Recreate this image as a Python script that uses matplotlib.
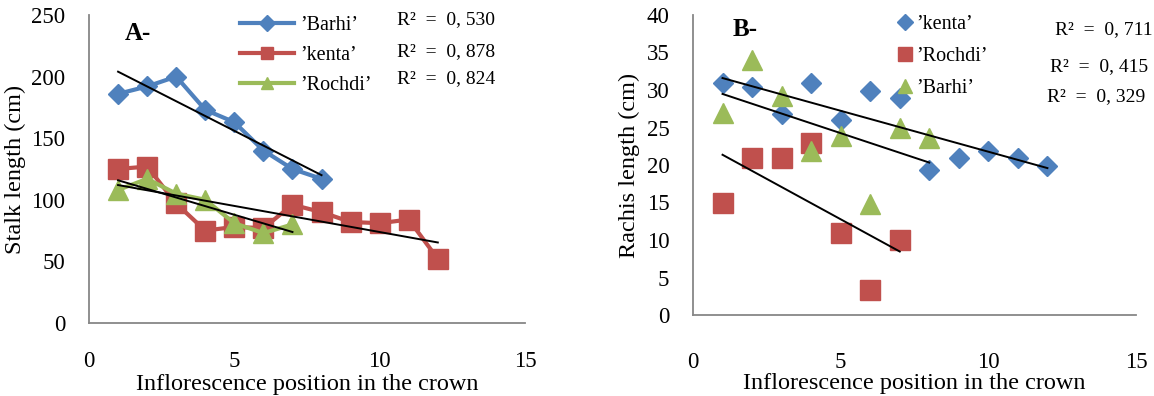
import numpy as np
import matplotlib
matplotlib.use("Agg")
import matplotlib.pyplot as plt
from matplotlib.lines import Line2D

# ---------------- data ----------------
pos_a_barhi = [1, 2, 3, 4, 5, 6, 7, 8]
stalk_barhi = [186, 192, 200, 173, 163, 140, 125, 117]
pos_a_kenta = [1, 2, 3, 4, 5, 6, 7, 8, 9, 10, 11, 12]
stalk_kenta = [125, 127, 97, 75, 78, 77, 96, 90, 82, 81, 84, 52]
pos_a_rochdi = [1, 2, 3, 4, 5, 6, 7]
stalk_rochdi = [108, 117, 105, 100, 81, 73, 80]

pos_b_kenta = [1, 2, 3, 4, 5, 6, 7, 8, 9, 10, 11, 12]
rachis_kenta = [31.0, 30.4, 26.8, 31.0, 26.0, 29.9, 28.9, 19.3, 21.0, 21.9, 21.0, 19.9]
pos_b_rochdi = [1, 2, 3, 4, 5, 6, 7]
rachis_rochdi = [15.0, 21.0, 21.0, 23.0, 11.0, 3.4, 10.0]
pos_b_barhi = [1, 2, 3, 4, 5, 6, 7, 8]
rachis_barhi = [26.9, 34.0, 29.2, 21.9, 23.9, 14.8, 24.9, 23.6]

labels_a = ["\u2019Barhi\u2019", "\u2019kenta\u2019", "\u2019Rochdi\u2019"]
r2_a = ["R\u00b2  =  0, 530", "R\u00b2  =  0, 878", "R\u00b2  =  0, 824"]
labels_b = ["\u2019kenta\u2019", "\u2019Rochdi\u2019", "\u2019Barhi\u2019"]
r2_b = ["R\u00b2  =  0, 711", "R\u00b2  =  0, 415", "R\u00b2  =  0, 329"]

xticks = [0, 5, 10, 15]
yticks_a = [0, 50, 100, 150, 200, 250]
yticks_b = [0, 5, 10, 15, 20, 25, 30, 35, 40]

BLUE = "#4F81BD"
RED = "#C0504D"
GREEN = "#9BBB59"
SPINE = "#878787"

plt.rcParams['font.family'] = ['Liberation Serif', 'DejaVu Serif']

W, H = 1154, 396
fig = plt.figure(figsize=(W / 100, H / 100), dpi=100)

def fbox(l, t, r, b):
    return [l / W, 1 - b / H, (r - l) / W, (b - t) / H]

axA = fig.add_axes(fbox(89, 15, 525, 323))
axB = fig.add_axes(fbox(693, 15, 1136, 315))

def style(ax, yticks, ylabel, xpad, lpad, ylab_xy):
    ax.set_xlim(0, 15)
    ax.set_xticks(xticks)
    ax.set_ylim(yticks[0], yticks[-1])
    ax.set_yticks(yticks)
    for s in ["top", "right"]:
        ax.spines[s].set_visible(False)
    for s in ["left", "bottom"]:
        ax.spines[s].set_color(SPINE)
        ax.spines[s].set_linewidth(1.3)
    ax.tick_params(axis="both", length=0, labelsize=16.5)
    ax.tick_params(axis="y", pad=17)
    ax.tick_params(axis="x", pad=xpad)
    ax.set_xlabel("Inflorescence position in the crown", fontsize=17.5, labelpad=lpad)
    ax.set_ylabel(ylabel, fontsize=17.5)
    ax.yaxis.set_label_coords(*ylab_xy)
    ax.patch.set_alpha(0)

def trend(ax, x, y):
    x = np.asarray(x, float)
    k, b = np.polyfit(x, y, 1)
    ax.plot([x.min(), x.max()], [k * x.min() + b, k * x.max() + b],
            color="black", lw=1.4, zorder=5)

# ---------------- panel A ----------------
axA.plot(pos_a_barhi, stalk_barhi, color=BLUE, lw=3, marker="D", ms=10.5,
         mec=BLUE, zorder=3)
axA.plot(pos_a_kenta, stalk_kenta, color=RED, lw=3, marker="s", ms=14,
         mec=RED, zorder=2)
axA.plot(pos_a_rochdi, stalk_rochdi, color=GREEN, lw=3, marker="^", ms=14,
         mec=GREEN, zorder=4)
trend(axA, pos_a_barhi, stalk_barhi)
trend(axA, pos_a_kenta, stalk_kenta)
trend(axA, pos_a_rochdi, stalk_rochdi)
style(axA, yticks_a, "Stalk length (cm)", 20, 1.5, (-0.145, 0.5))
axA.text(125 / W, 1 - 33 / H, "A-", transform=fig.transFigure, fontsize=18,
         fontweight="bold", va="center", ha="left")

fig.legend([Line2D([], [], color=BLUE, lw=3, marker="D", ms=8),
            Line2D([], [], color=RED, lw=3, marker="s", ms=9),
            Line2D([], [], color=GREEN, lw=3, marker="^", ms=9)],
           labels_a, loc="upper left", bbox_to_anchor=(240 / W, 1 - 16 / H),
           frameon=False, fontsize=14.5, handlelength=2.7, handletextpad=0.3,
           labelspacing=0.55, borderpad=0, borderaxespad=0)
for y, t in zip([20, 52, 79], r2_a):
    fig.text(397 / W, 1 - y / H, t, fontsize=14, va="center", ha="left")

# ---------------- panel B ----------------
axB.plot(pos_b_kenta, rachis_kenta, ls="none", marker="D", ms=10, color=BLUE,
         mec=BLUE, zorder=3)
axB.plot(pos_b_rochdi, rachis_rochdi, ls="none", marker="s", ms=14, color=RED,
         mec=RED, zorder=2)
axB.plot(pos_b_barhi, rachis_barhi, ls="none", marker="^", ms=14, color=GREEN,
         mec=GREEN, zorder=4)
trend(axB, pos_b_kenta, rachis_kenta)
trend(axB, pos_b_rochdi, rachis_rochdi)
trend(axB, pos_b_barhi, rachis_barhi)
style(axB, yticks_b, "Rachis length (cm)", 27, 0, (-0.12, 0.5))
axB.text(733 / W, 1 - 30 / H, "B-", transform=fig.transFigure, fontsize=18,
         fontweight="bold", va="center", ha="left")

fig.legend([Line2D([], [], ls="none", color=BLUE, marker="D", ms=8),
            Line2D([], [], ls="none", color=RED, marker="s", ms=10),
            Line2D([], [], ls="none", color=GREEN, marker="^", ms=10)],
           labels_b, loc="upper left", bbox_to_anchor=(898 / W, 1 - 15 / H),
           frameon=False, fontsize=14.5, handlelength=0.7, handletextpad=0.2,
           labelspacing=0.65, borderpad=0, borderaxespad=0)
for x, y, t in zip([1055, 1050, 1047], [30, 67, 97], r2_b):
    fig.text(x / W, 1 - y / H, t, fontsize=14, va="center", ha="left")

fig.savefig("out.png", dpi=100)
